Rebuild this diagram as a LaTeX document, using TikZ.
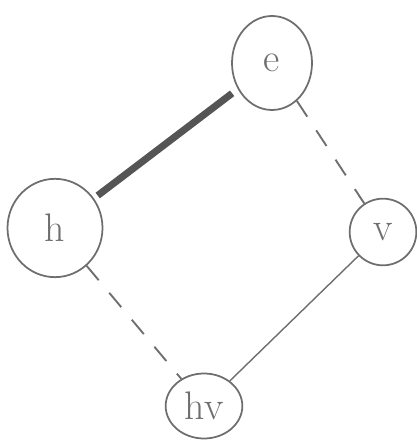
\documentclass[tikz,border=0pt]{standalone}
\usepackage{xcolor}
\usepackage{tikz}
\usetikzlibrary{shapes.geometric, calc}
\definecolor{pencil}{HTML}{6E6E6E}
\definecolor{darkpencil}{HTML}{555555}

\tikzset{
  state/.style={ellipse, draw=pencil, line width=1.5pt, inner sep=0pt,
                text=pencil, font=\fontsize{34}{34}\selectfont},
  strong/.style={draw=darkpencil, line width=6pt, shorten <=4pt, shorten >=6pt},
  weak/.style={draw=pencil, line width=1.6pt, dash pattern=on 16pt off 14pt},
  plain/.style={draw=pencil, line width=1.2pt}
}

\begin{document}
\begin{tikzpicture}
    \useasboundingbox (0,0) rectangle (12.51,13.29);
    % the four states
    \node[state, minimum width=2.4cm, minimum height=2.82cm] (e) at (8.16,11.4) {e};
    \node[state, minimum width=2.85cm, minimum height=2.95cm] (h) at (1.65,6.45) {h};
    \node[state, minimum width=2.0cm, minimum height=2.0cm] (v) at (11.49,6.33) {v};
    \node[state, minimum width=2.3cm, minimum height=1.95cm] (hv) at (6.12,1.11) {hv};
    % connectors
    \draw[strong] (h) -- (e);
    \draw[weak] (e) -- (v);
    \draw[weak] (h) -- (hv);
    \draw[plain] (v) -- (hv);
  \end{tikzpicture}
\end{document}
